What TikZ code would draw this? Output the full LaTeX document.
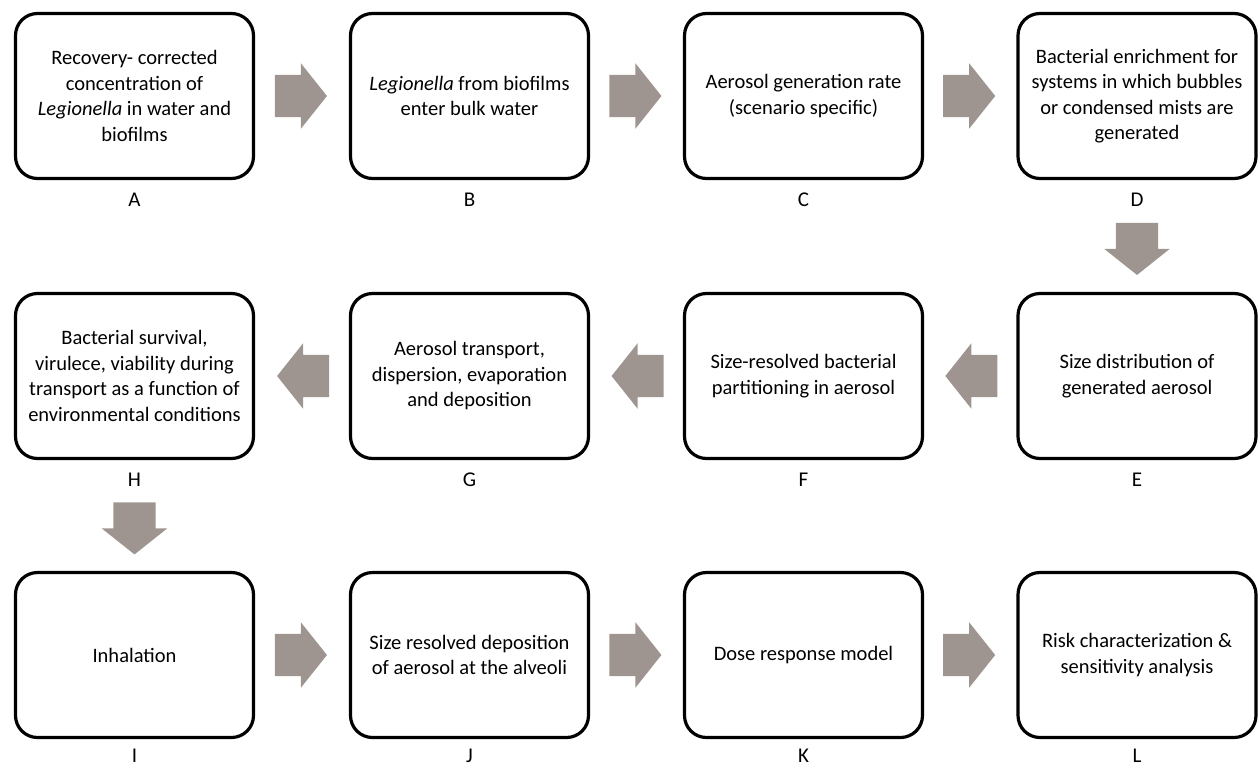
\documentclass[tikz,border=0pt]{standalone}
\usepackage{fontspec}
\setmainfont{Carlito}
\usetikzlibrary{calc}
\usetikzlibrary{positioning}
\usetikzlibrary{shapes.arrows}
\definecolor{arrowgray}{RGB}{159,149,144}
\tikzstyle{stepbox} = [draw, rounded corners=22pt, line width=3.2pt, outer sep=1.6pt, minimum width=238pt, minimum height=165pt, align=center, font=\fontsize{20.5}{25.5}\selectfont]
\tikzstyle{steplabel} = [inner sep=0pt, font=\fontsize{21}{25}\selectfont]
\tikzstyle{blockarrow} = [single arrow, fill=arrowgray, draw=none, inner xsep=0pt, inner ysep=21pt, minimum height=52pt, minimum width=65pt, single arrow head extend=11.5pt, single arrow tip angle=103, xshift=-9.5pt]

\begin{document}
\begin{tikzpicture}[x=1pt, y=-1pt]
\useasboundingbox (0,0) rectangle (1258,766);

% first row
\node[stepbox] (A) at (134.5,96) {Recovery- corrected\\concentration of\\\textit{Legionella} in water and\\biofilms};
\node[stepbox] (B) at ($(A)+(335,0)$) {\textit{Legionella} from biofilms\\enter bulk water};
\node[stepbox] (C) at ($(B)+(334,0)$) {Aerosol generation rate\\(scenario specific)};
\node[stepbox] (D) at ($(C)+(333.5,0)$) {Bacterial enrichment for\\systems in which bubbles\\or condensed mists are\\generated};

% second row, read right to left
\node[stepbox] (E) at ($(D)+(0,280)$) {Size distribution of\\generated aerosol};
\node[stepbox] (F) at ($(C)+(0,280)$) {Size-resolved bacterial\\partitioning in aerosol};
\node[stepbox] (G) at ($(B)+(0,280)$) {Aerosol transport,\\dispersion, evaporation\\and deposition};
\node[stepbox] (H) at ($(A)+(0,280)$) {Bacterial survival,\\virulece, viability during\\transport as a function of\\environmental conditions};

% third row
\node[stepbox] (I) at ($(H)+(0,279)$) {Inhalation};
\node[stepbox] (J) at ($(G)+(0,279)$) {Size resolved deposition\\of aerosol at the alveoli};
\node[stepbox] (K) at ($(F)+(0,279)$) {Dose response model};
\node[stepbox] (L) at ($(E)+(0,279)$) {Risk characterization \&\\sensitivity analysis};

% letters under the boxes
\foreach \n in {A,B,C,D,E,F,G,H}
  \node[steplabel] (lab\n) at ($(\n.south)+(0,20)$) {\n};
\foreach \n in {I,J,K,L}
  \node[steplabel] (lab\n) at ($(\n.south)+(0,17)$) {\n};

% block arrows (rotate goes before the style so the shift follows the arrow)
\node[blockarrow] (arAB) at ($(A.east)!0.5!(B.west)$) {};
\node[blockarrow] (arBC) at ($(B.east)!0.5!(C.west)$) {};
\node[blockarrow] (arCD) at ($(C.east)!0.5!(D.west)$) {};
\node[rotate=-90, blockarrow] (arDE) at ($(D.south)!0.5!(E.north)+(0,14)$) {};
\node[rotate=180, blockarrow] (arEF) at ($(E.west)!0.5!(F.east)$) {};
\node[rotate=180, blockarrow] (arFG) at ($(F.west)!0.5!(G.east)$) {};
\node[rotate=180, blockarrow] (arGH) at ($(G.west)!0.5!(H.east)$) {};
\node[rotate=-90, blockarrow] (arHI) at ($(H.south)!0.5!(I.north)+(0,14)$) {};
\node[blockarrow] (arIJ) at ($(I.east)!0.5!(J.west)$) {};
\node[blockarrow] (arJK) at ($(J.east)!0.5!(K.west)$) {};
\node[blockarrow] (arKL) at ($(K.east)!0.5!(L.west)$) {};
\end{tikzpicture}
\end{document}
